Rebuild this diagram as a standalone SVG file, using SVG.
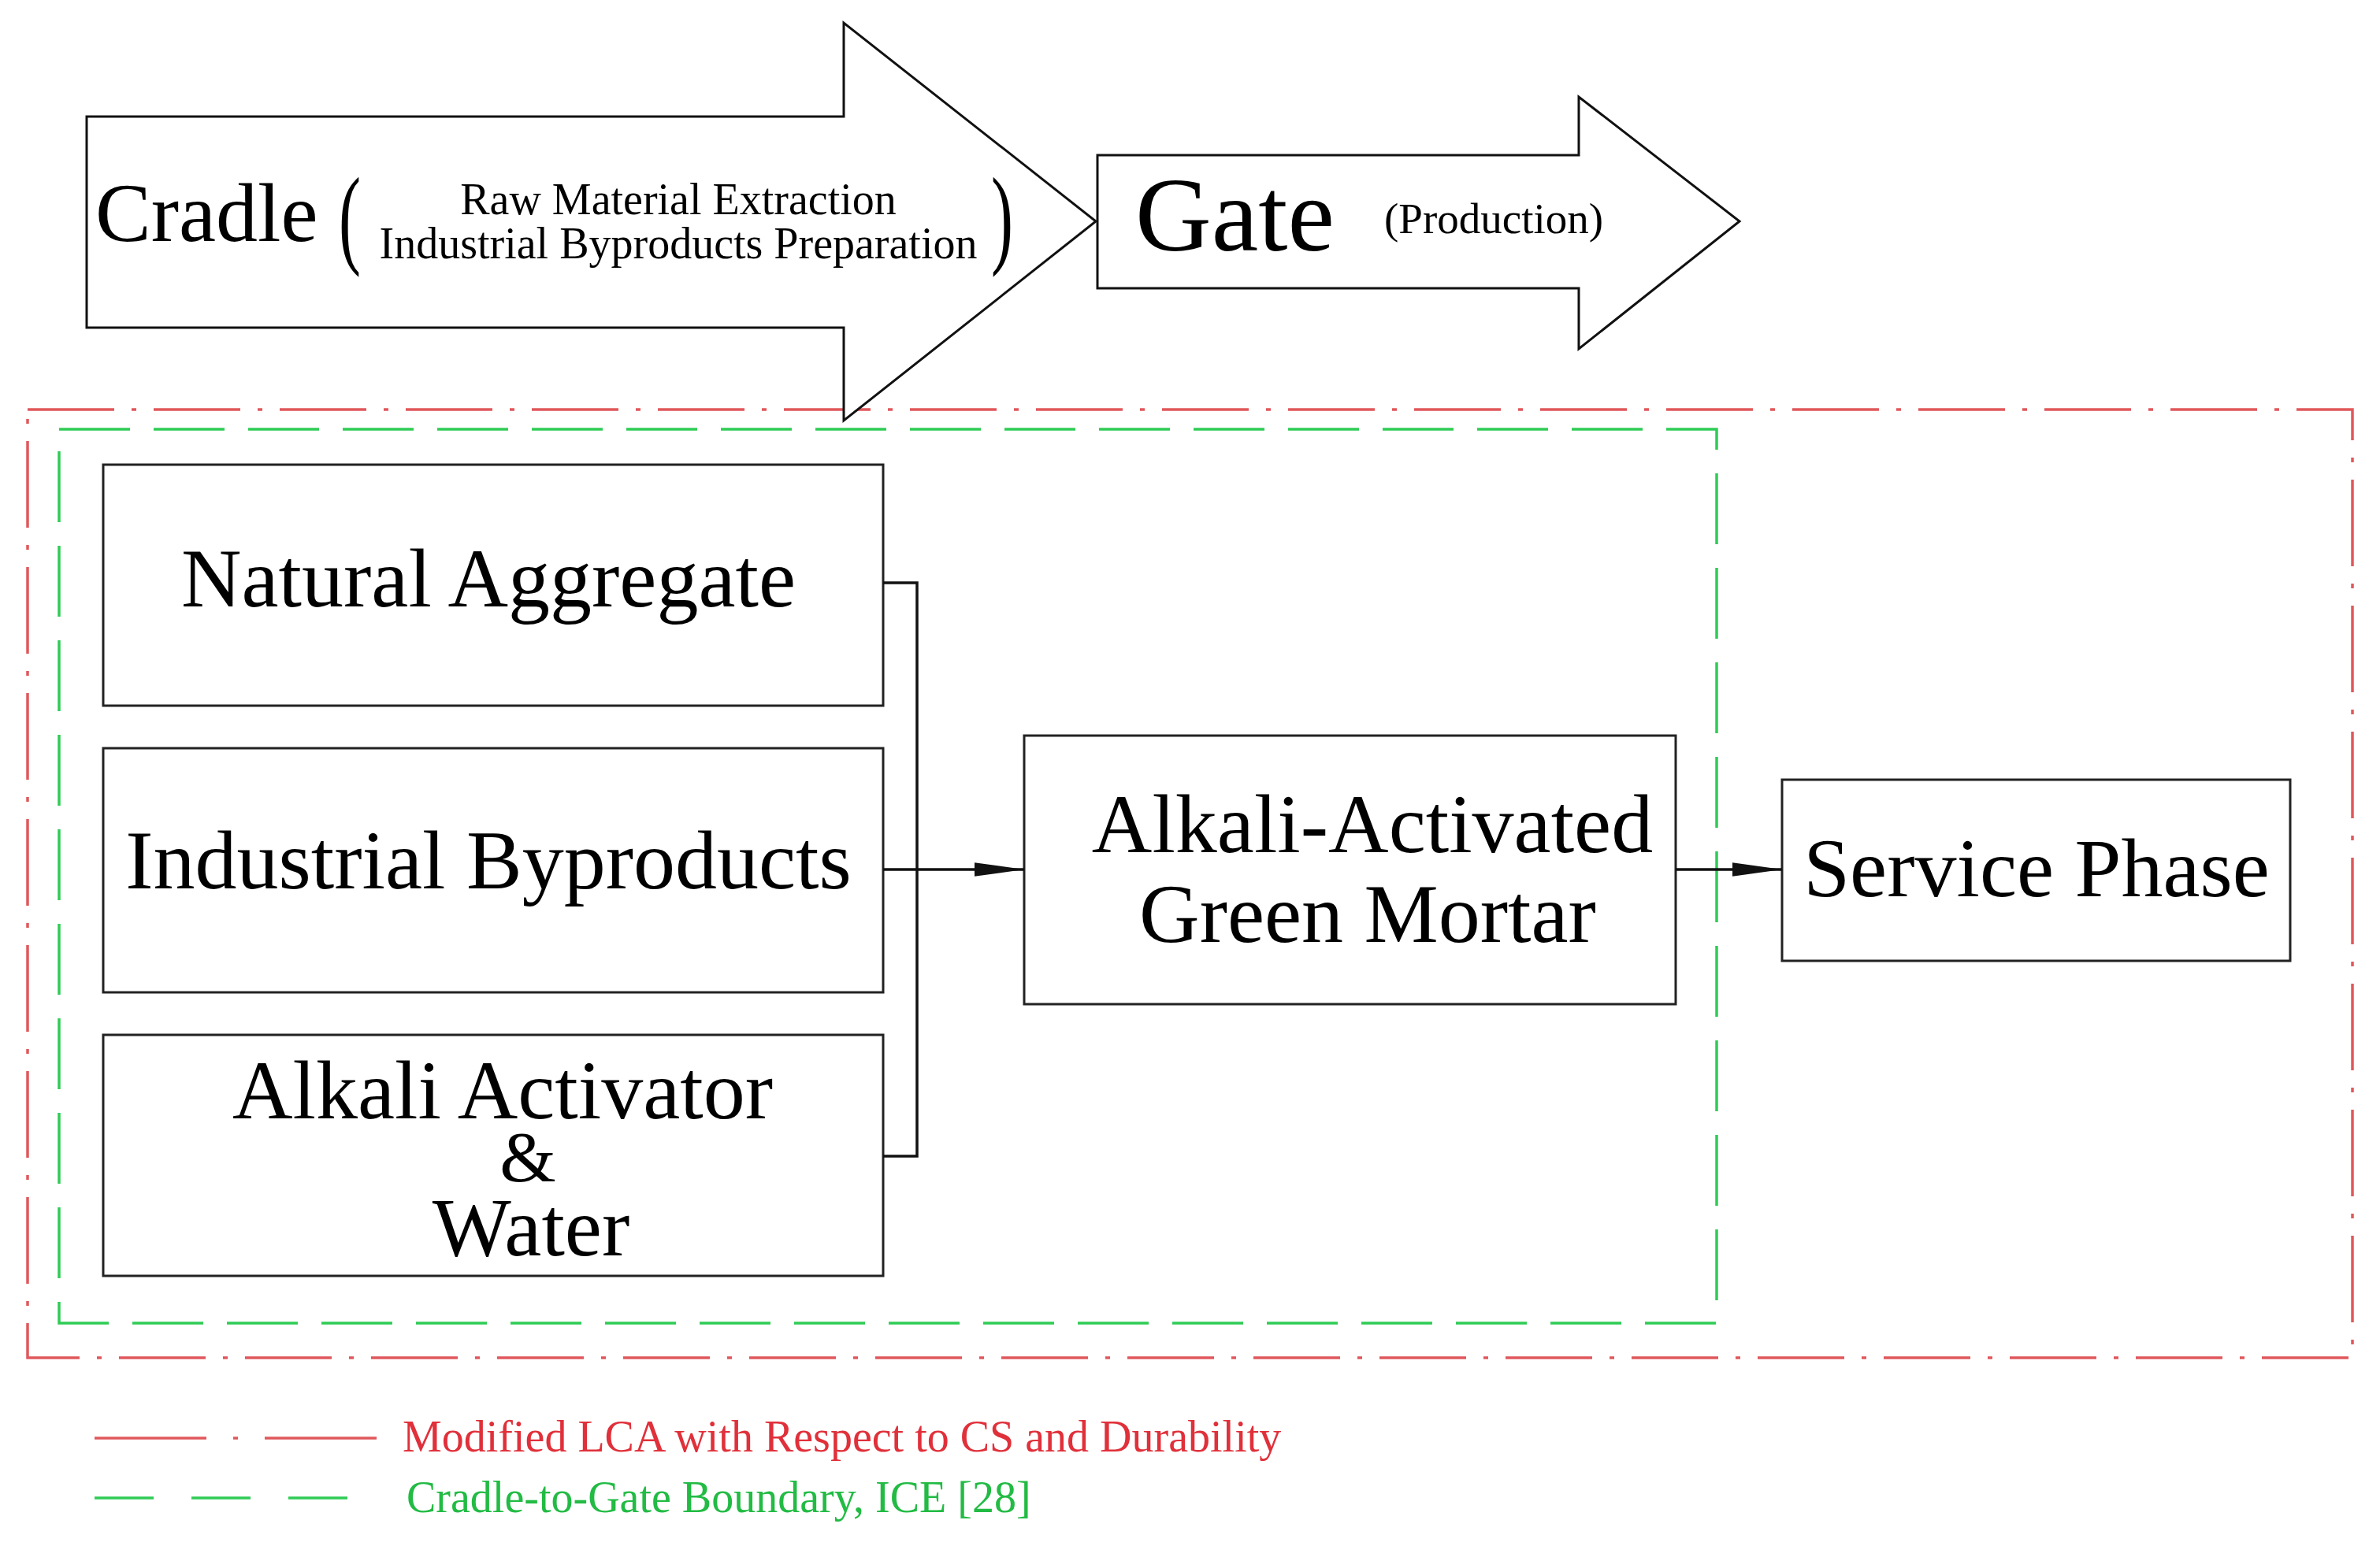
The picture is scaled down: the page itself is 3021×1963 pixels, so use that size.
<svg xmlns="http://www.w3.org/2000/svg" width="3021" height="1963" viewBox="0 0 3021 1963">
<style>
text{font-family:"Liberation Serif","Times New Roman",serif;fill:#000}
.box{fill:#fff;stroke:#222;stroke-width:3}
.arr{fill:#fff;stroke:#111;stroke-width:3;stroke-linejoin:miter}
.red{fill:none;stroke:#e0585c;stroke-width:3.5;stroke-dasharray:110 22 6 22}
.green{fill:none;stroke:#2fcc55;stroke-width:3.5;stroke-dasharray:90 30}
.con{fill:none;stroke:#111;stroke-width:3.5}
.big{font-size:106px}
</style>
<defs>
<marker id="ah" markerWidth="18" markerHeight="8" refX="18" refY="4" orient="auto" markerUnits="strokeWidth">
<path d="M0,1.5 L18,4 L0,6.5 Z" fill="#111"/>
</marker>
</defs>
<rect class="red" x="35" y="520" width="2951" height="1204"/>
<rect class="green" x="75" y="545" width="2104" height="1135"/>
<g id="cradle">
<polygon class="arr" points="110,148 1071,148 1071,29 1391,281 1071,534 1071,416 110,416"/>
<text x="121" y="306" font-size="106">Cradle</text>
<text x="430" y="322" font-size="140" transform="translate(430 0) scale(0.6 1) translate(-430 0)">(</text>
<text x="861" y="272" font-size="56" text-anchor="middle">Raw Material Extraction</text>
<text x="861" y="328" font-size="56" text-anchor="middle">Industrial Byproducts Preparation</text>
<text x="1258" y="322" font-size="140" transform="translate(1258 0) scale(0.6 1) translate(-1258 0)">)</text>
</g>
<g id="gate">
<polygon class="arr" points="1393,197 2004,197 2004,123 2208,281 2004,443 2004,366 1393,366"/>
<text x="1441" y="318" font-size="134">Gate</text>
<text x="1757" y="296" font-size="55">(Production)</text>
</g>
<g id="natural-aggregate">
<rect class="box" x="131" y="590" width="990" height="306"/>
<text class="big" x="620" y="770" text-anchor="middle">Natural Aggregate</text>
</g>
<g id="industrial-byproducts">
<rect class="box" x="131" y="950" width="990" height="310"/>
<text class="big" x="620" y="1128" text-anchor="middle">Industrial Byproducts</text>
</g>
<g id="alkali-activator">
<rect class="box" x="131" y="1314" width="990" height="306"/>
<text class="big" x="638" y="1420" text-anchor="middle">Alkali Activator</text>
<text x="670" y="1500" font-size="92" text-anchor="middle">&amp;</text>
<text class="big" x="674" y="1594" text-anchor="middle">Water</text>
</g>
<g id="green-mortar">
<rect class="box" x="1300" y="934" width="827" height="341"/>
<text class="big" x="1742" y="1082" text-anchor="middle">Alkali-Activated</text>
<text class="big" x="1736" y="1196" text-anchor="middle">Green Mortar</text>
</g>
<g id="service-phase">
<rect class="box" x="2262" y="990" width="645" height="230"/>
<text class="big" x="2585" y="1138" text-anchor="middle">Service Phase</text>
</g>
<g id="connectors">
<path class="con" d="M1121,740 H1164 V1468 H1121"/>
<path class="con" d="M1121,1104 H1300" marker-end="url(#ah)"/>
<path class="con" d="M2127,1104 H2262" marker-end="url(#ah)"/>
</g>
<g id="legend">
<line class="red" x1="120" y1="1826" x2="482" y2="1826" style="stroke-dasharray:142 34 6 34"/>
<text x="511" y="1843" font-size="56" style="fill:#e0303a">Modified LCA with Respect to CS and Durability</text>
<line class="green" x1="120" y1="1902" x2="482" y2="1902" style="stroke-dasharray:75 48"/>
<text x="516" y="1920" font-size="56" style="fill:#22bb44">Cradle-to-Gate Boundary, ICE [28]</text>
</g>
</svg>
